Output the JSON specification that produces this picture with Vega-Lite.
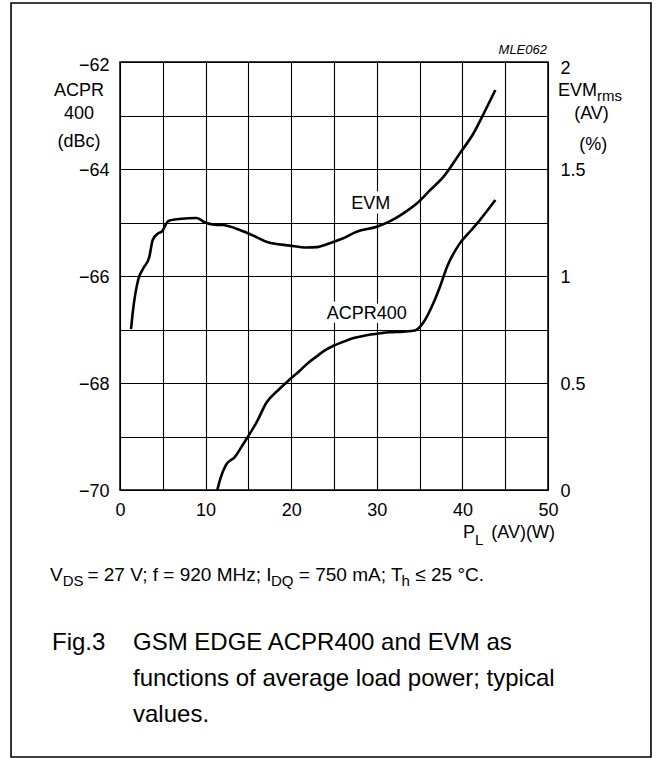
{
  "$schema": "https://vega.github.io/schema/vega-lite/v6.json",
  "width": 428,
  "height": 428,
  "autosize": {"type": "none"},
  "padding": {"left": 120, "top": 62, "right": 108, "bottom": 268},
  "background": "white",
  "config": {
    "font": "Liberation Sans",
    "view": {"stroke": "#000", "strokeWidth": 1.5},
    "axis": {"labelFont": "Liberation Sans", "labelColor": "#000", "labelFontSize": 18, "ticks": false, "domain": false, "gridColor": "#000", "gridOpacity": 1, "gridWidth": 1.1, "labelOverlap": false}
  },
  "datasets": {
    "acpr": [
      {"x": 11.37, "y": -70.0}, {"x": 11.68, "y": -69.81}, {"x": 12.38, "y": -69.53}, {"x": 13.43, "y": -69.38},
      {"x": 14.2, "y": -69.19}, {"x": 15.0, "y": -68.99}, {"x": 16.0, "y": -68.72}, {"x": 17.1, "y": -68.37},
      {"x": 18.5, "y": -68.13}, {"x": 19.86, "y": -67.93}, {"x": 21.0, "y": -67.77}, {"x": 22.0, "y": -67.62},
      {"x": 23.0, "y": -67.5}, {"x": 23.75, "y": -67.41}, {"x": 25.0, "y": -67.3}, {"x": 26.1, "y": -67.23},
      {"x": 27.3, "y": -67.16}, {"x": 28.4, "y": -67.12}, {"x": 30.4, "y": -67.07}, {"x": 31.5, "y": -67.05},
      {"x": 33.1, "y": -67.04}, {"x": 34.46, "y": -67.02}, {"x": 35.4, "y": -66.88}, {"x": 36.6, "y": -66.51},
      {"x": 37.38, "y": -66.2}, {"x": 38.2, "y": -65.83}, {"x": 39.7, "y": -65.39}, {"x": 41.0, "y": -65.15},
      {"x": 42.06, "y": -64.95}, {"x": 43.85, "y": -64.58}
    ],
    "evm": [
      {"x": 1.29, "y": 0.752}, {"x": 1.48, "y": 0.826}, {"x": 2.14, "y": 0.985}, {"x": 2.73, "y": 1.036},
      {"x": 3.43, "y": 1.09}, {"x": 3.82, "y": 1.168}, {"x": 4.48, "y": 1.2}, {"x": 4.87, "y": 1.207},
      {"x": 5.65, "y": 1.257}, {"x": 6.62, "y": 1.265}, {"x": 8.0, "y": 1.27}, {"x": 8.96, "y": 1.271},
      {"x": 9.93, "y": 1.25}, {"x": 11.0, "y": 1.24}, {"x": 12.07, "y": 1.238}, {"x": 14.0, "y": 1.215},
      {"x": 15.5, "y": 1.19}, {"x": 17.1, "y": 1.16}, {"x": 19.86, "y": 1.142}, {"x": 21.8, "y": 1.133},
      {"x": 23.0, "y": 1.135}, {"x": 24.5, "y": 1.153}, {"x": 26.0, "y": 1.175}, {"x": 27.65, "y": 1.207},
      {"x": 30.0, "y": 1.23}, {"x": 31.5, "y": 1.255}, {"x": 33.1, "y": 1.293}, {"x": 34.7, "y": 1.34},
      {"x": 36.2, "y": 1.4}, {"x": 37.8, "y": 1.464}, {"x": 39.7, "y": 1.573}, {"x": 41.3, "y": 1.667},
      {"x": 42.4, "y": 1.752}, {"x": 43.85, "y": 1.869}
    ],
    "frame": [{"x": -12.73, "x2": 62.03, "y": -60.897, "y2": -74.99}],
    "txt": [
      {"t": "ACPR", "x": -4.79, "y": -62.533, "k": "c18"},
      {"t": "400", "x": -4.79, "y": -62.981, "k": "c18"},
      {"t": "(dBc)", "x": -4.79, "y": -63.495, "k": "c18"},
      {"t": "(AV)", "x": 55.08, "y": -62.972, "k": "c18"},
      {"t": "(%)", "x": 55.3, "y": -63.551, "k": "c18"},
      {"t": "EVM", "x": 51.168, "y": -62.548, "k": "l18"},
      {"t": "rms", "x": 55.724, "y": -62.63, "k": "sub"},
      {"t": "P", "x": 40.07, "y": -70.804, "k": "l18"},
      {"t": "L", "x": 41.47, "y": -70.935, "k": "sub"},
      {"t": "(AV)(W)", "x": 50.82, "y": -70.804, "k": "r18"},
      {"t": "V", "x": -8.178, "y": -71.589, "k": "l19"},
      {"t": "DS", "x": -6.694, "y": -71.701, "k": "sub"},
      {"t": "= 27 V; f = 920 MHz; I", "x": -3.808, "y": -71.589, "k": "l19"},
      {"t": "DQ", "x": 17.64, "y": -71.701, "k": "sub"},
      {"t": "= 750 mA; T", "x": 20.89, "y": -71.589, "k": "l19"},
      {"t": "h", "x": 32.9, "y": -71.701, "k": "sub"},
      {"t": "≤ 25 °C.", "x": 34.5, "y": -71.589, "k": "l19"},
      {"t": "Fig.3", "x": -7.944, "y": -72.86, "k": "cap"},
      {"t": "GSM EDGE ACPR400 and EVM as", "x": 1.519, "y": -72.86, "k": "cap"},
      {"t": "functions of average load power; typical", "x": 1.519, "y": -73.533, "k": "cap"},
      {"t": "values.", "x": 1.519, "y": -74.206, "k": "cap"},
      {"t": "MLE062", "x": 49.88, "y": -61.776, "k": "id"},
      {"t": "EVM", "x": 29.3, "y": -64.654, "k": "curve"},
      {"t": "ACPR400", "x": 28.82, "y": -66.71, "k": "curve"}
    ]
  },
  "encoding": {
    "x": {
      "field": "x", "type": "quantitative",
      "scale": {"domain": [0, 50], "nice": false, "zero": false},
      "axis": {
        "title": null, "values": [0, 5, 10, 15, 20, 25, 30, 35, 40, 45, 50],
        "labelExpr": "datum.value % 10 == 0 ? datum.label : ''",
        "grid": true, "labelFlush": false, "labelPadding": 11
      }
    }
  },
  "layer": [
    {
      "encoding": {
        "y": {
          "field": "y", "type": "quantitative",
          "scale": {"domain": [-70, -62], "nice": false, "zero": false},
          "axis": {
            "title": null, "orient": "left",
            "values": [-70, -69, -68, -67, -66, -65, -64, -63, -62],
            "labelExpr": "datum.value % 2 == 0 ? datum.label : ''",
            "grid": true, "labelPadding": 11,
            "labelOffset": {"condition": {"test": "datum.value == -62", "value": 3}, "value": 1}
          }
        }
      },
      "layer": [
        {
          "data": {"name": "acpr"},
          "mark": {"type": "line", "color": "#000", "strokeWidth": 2.6, "interpolate": "monotone"},
          "encoding": {}
        },
        {
          "data": {"name": "frame"},
          "mark": {"type": "rect", "fill": null, "stroke": "#000", "strokeWidth": 1.6},
          "encoding": {"x2": {"field": "x2"}, "y2": {"field": "y2"}}
        },
        {
          "data": {"name": "txt"},
          "transform": [{"filter": "datum.k == 'c18'"}],
          "mark": {"type": "text", "align": "center", "baseline": "middle", "fontSize": 18, "color": "#000"},
          "encoding": {"text": {"field": "t"}}
        },
        {
          "data": {"name": "txt"},
          "transform": [{"filter": "datum.k == 'l18'"}],
          "mark": {"type": "text", "align": "left", "baseline": "middle", "fontSize": 18, "color": "#000"},
          "encoding": {"text": {"field": "t"}}
        },
        {
          "data": {"name": "txt"},
          "transform": [{"filter": "datum.k == 'l19'"}],
          "mark": {"type": "text", "align": "left", "baseline": "middle", "fontSize": 19, "color": "#000"},
          "encoding": {"text": {"field": "t"}}
        },
        {
          "data": {"name": "txt"},
          "transform": [{"filter": "datum.k == 'r18'"}],
          "mark": {"type": "text", "align": "right", "baseline": "middle", "fontSize": 18, "color": "#000"},
          "encoding": {"text": {"field": "t"}}
        },
        {
          "data": {"name": "txt"},
          "transform": [{"filter": "datum.k == 'sub'"}],
          "mark": {"type": "text", "align": "left", "baseline": "middle", "fontSize": 15, "color": "#000"},
          "encoding": {"text": {"field": "t"}}
        },
        {
          "data": {"name": "txt"},
          "transform": [{"filter": "datum.k == 'cap'"}],
          "mark": {"type": "text", "align": "left", "baseline": "middle", "fontSize": 24, "color": "#000"},
          "encoding": {"text": {"field": "t"}}
        },
        {
          "data": {"name": "txt"},
          "transform": [{"filter": "datum.k == 'id'"}],
          "mark": {"type": "text", "align": "right", "baseline": "middle", "fontSize": 13, "fontStyle": "italic", "color": "#000"},
          "encoding": {"text": {"field": "t"}}
        },
        {
          "data": {"name": "txt"},
          "transform": [{"filter": "datum.k == 'curve'"}],
          "mark": {"type": "text", "align": "center", "baseline": "middle", "fontSize": 18, "fill": "white", "stroke": "white", "strokeWidth": 9, "strokeJoin": "round"},
          "encoding": {"text": {"field": "t"}}
        },
        {
          "data": {"name": "txt"},
          "transform": [{"filter": "datum.k == 'curve'"}],
          "mark": {"type": "text", "align": "center", "baseline": "middle", "fontSize": 18, "color": "#000"},
          "encoding": {"text": {"field": "t"}}
        }
      ]
    },
    {
      "data": {"name": "evm"},
      "mark": {"type": "line", "color": "#000", "strokeWidth": 2.6, "interpolate": "monotone"},
      "encoding": {
        "y": {
          "field": "y", "type": "quantitative",
          "scale": {"domain": [0, 2], "nice": false, "zero": false},
          "axis": {
            "title": null, "orient": "right", "values": [0, 0.5, 1, 1.5, 2], "format": "~g",
            "grid": false, "labelAlign": "left", "labelPadding": 12,
            "labelOffset": {"condition": {"test": "datum.value == 2", "value": 6}, "value": 1}
          }
        }
      }
    }
  ],
  "resolve": {"scale": {"y": "independent"}}
}
